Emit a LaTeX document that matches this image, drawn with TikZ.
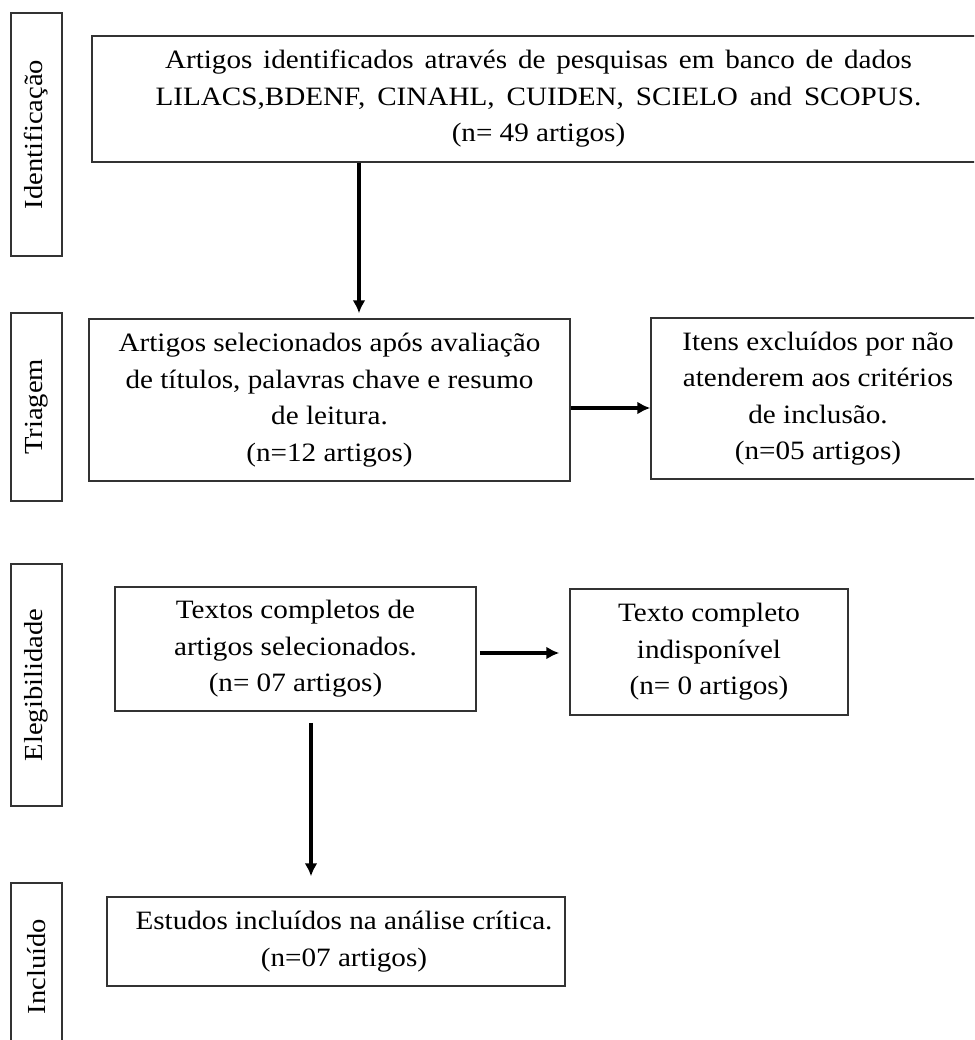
\documentclass[tikz,border=0pt]{standalone}
\usepackage{fontspec}
\setmainfont{Liberation Serif}[FakeStretch=1.1]
\usetikzlibrary{arrows.meta}
\begin{document}
\begin{tikzpicture}[x=1pt,y=-1pt,
  box/.style={draw=black!80, line width=1.5pt, inner sep=0pt, align=center,
    font=\fontsize{26.5}{36.5}\selectfont},
  txt/.style={inner sep=0pt, align=center, font=\fontsize{26.5}{36.5}\selectfont},
  side/.style={draw=black!80, line width=1.5pt, inner sep=0pt, rotate=90,
    minimum height=51pt, font=\fontsize{26}{30}\selectfont},
  arr/.style={line width=3.4pt, -{Latex[length=13pt,width=13pt]}}]
\useasboundingbox (0,0) rectangle (974,1040);
\clip (0,0) rectangle (974,1040);
\fill[white] (0,0) rectangle (974,1040);

% side labels
\node[side, minimum width=243pt] (s1) at (36.5,134.5) {Identificação};
\node[side, minimum width=188pt] (s2) at (36.5,407) {Triagem};
\node[side, minimum width=242pt] (s3) at (36.5,685) {Elegibilidade};
\node[side, minimum width=167pt] (s4) at (36.5,966.5) {Incluído};

% boxes
\node[box, minimum width=893pt, minimum height=126pt] (b1) at (538.5,99)
  {\makebox[747pt][s]{Artigos identificados através de pesquisas em banco de dados}\\
   \makebox[766pt][s]{LILACS,BDENF, CINAHL, CUIDEN, SCIELO and SCOPUS.}\\
   (n= 49 artigos)};
\node[box, minimum width=481pt, minimum height=162pt] (b2) at (329.5,400)
  {Artigos selecionados após avaliação\\
   de títulos, palavras chave e resumo\\
   de leitura.\\
   (n=12 artigos)};
\node[box, minimum width=334pt, minimum height=161pt] (b3) at (818,398.5)
  {Itens excluídos por não\\
   atenderem aos critérios\\
   de inclusão.\\
   (n=05 artigos)};
\node[box, minimum width=361pt, minimum height=124pt] (b4) at (295.5,649)
  {Textos completos de\\
   artigos selecionados.\\
   (n= 07 artigos)};
\node[box, minimum width=278pt, minimum height=126pt] (b5) at (709,652)
  {Texto completo\\
   indisponível\\
   (n= 0 artigos)};
\node[box, minimum width=458pt, minimum height=89pt] (b6) at (336,941.5) {};
\node[txt] (b6t) at (344,941.5)
  {Estudos incluídos na análise crítica.\\
   (n=07 artigos)};

% connectors
\coordinate (c1) at (359,0);
\coordinate (c2) at (0,408);
\coordinate (c3) at (0,653);
\coordinate (c4) at (311,0);
\draw[arr, shorten >=5pt] (b1.south -| c1) -- (b2.north -| c1);
\draw[arr] (b2.east |- c2) -- (b3.west |- c2);
\draw[arr, shorten <=3pt, shorten >=10pt] (b4.east |- c3) -- (b5.west |- c3);
\draw[arr, shorten <=11pt, shorten >=20pt] (b4.south -| c4) -- (b6.north -| c4);
\end{tikzpicture}
\end{document}
